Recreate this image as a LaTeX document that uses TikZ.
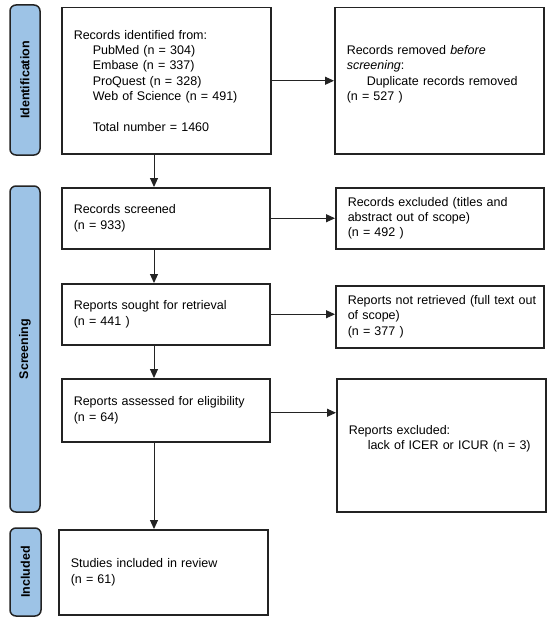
\documentclass[tikz,border=0pt]{standalone}
\usepackage{fontspec}
\setmainfont{Liberation Sans}
\usetikzlibrary{arrows.meta}
\definecolor{bandblue}{RGB}{157,195,230}
\definecolor{edge}{RGB}{35,35,35}
\begin{document}
\begin{tikzpicture}[x=1pt,y=-1pt,
  box/.style={draw=edge, line width=1.5pt, anchor=north west, inner xsep=12pt, inner ysep=0pt,
    align=left, font=\fontsize{12.5}{15.3}\selectfont},
  band/.style={draw=edge, line width=1.5pt, fill=bandblue, rounded corners=6pt, rotate=90,
    anchor=center, inner sep=0pt, font=\fontsize{12.5}{15}\selectfont\bfseries},
  arr/.style={-{Triangle[length=9pt,width=8pt]}, line width=1pt, draw=edge}
]
\useasboundingbox (0,0) rectangle (550,623);

% phase bands
\node[band, minimum width=150, minimum height=30] (p1) at (25,80) {Identification};
\node[band, minimum width=326, minimum height=30] (p2) at (25,349) {Screening};
\node[band, minimum width=88, minimum height=31] (p3) at (25.5,572) {Included};

% main column
\node[box, minimum width=209, minimum height=146, text width=185] (b1) at (61,7) {%
Records identified from:\\
\hspace*{19pt}PubMed (n = 304)\\
\hspace*{19pt}Embase (n = 337)\\
\hspace*{19pt}ProQuest (n = 328)\\
\hspace*{19pt}Web of Science (n = 491)\\[15.3pt]
\hspace*{19pt}Total number = 1460};

\node[box, minimum width=208, minimum height=61, text width=184] (b3) at (61,187) {%
Records screened\\(n = 933)};

\node[box, minimum width=208, minimum height=61, text width=184] (b4) at (61,283) {%
Reports sought for retrieval\\(n = 441 )};

\node[box, minimum width=208, minimum height=63, text width=184] (b5) at (61,378) {%
Reports assessed for eligibility\\(n = 64)};

\node[box, minimum width=209, minimum height=85, text width=185] (b6) at (58,529) {%
Studies included in review\\(n = 61)};

% side column
\node[box, minimum width=209, minimum height=146, text width=185] (b2) at (334,7) {%
Records removed \textit{before}\\
\textit{screening}:\\
\hspace*{20pt}Duplicate records removed\\
(n = 527 )\\\mbox{}};

\node[box, minimum width=208, minimum height=61, text width=184] (e1) at (335,187) {%
Records excluded (titles and\\abstract out of scope)\\(n = 492 )};

\node[box, minimum width=208, minimum height=62, text width=184] (e2) at (335,285) {%
\mbox{Reports not retrieved (full text out}\\of scope)\\(n = 377 )};

\node[box, minimum width=209, minimum height=133, text width=185] (e3) at (336,378) {%
Reports excluded:\\
\hspace*{19pt}lack of ICER or ICUR (n = 3)\\\mbox{}};

% connectors
\coordinate (ax) at (154,0);
\draw[arr] (b1.south -| ax) -- (b3.north -| ax);
\draw[arr] (b3.south -| ax) -- (b4.north -| ax);
\draw[arr] (b4.south -| ax) -- (b5.north -| ax);
\draw[arr] (b5.south -| ax) -- (b6.north -| ax);

\draw[arr] (b1.east) -- (b2.west);
\draw[arr] (b3.east) -- (e1.west);
\draw[arr] (b4.east) -- (b4.east -| e2.west);
\draw[arr] ([yshift=-2.5pt]b5.east) -- ([yshift=-2.5pt]b5.east -| e3.west);
\end{tikzpicture}
\end{document}
